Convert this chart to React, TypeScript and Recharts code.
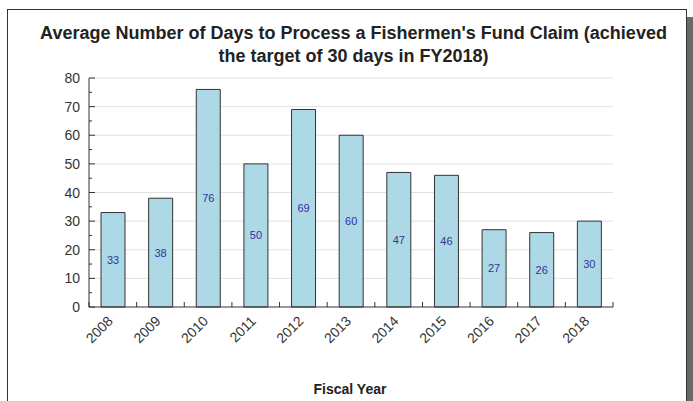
import React from "react";
import { BarChart, Bar, XAxis, YAxis, CartesianGrid, LabelList } from "recharts";

const years = ["2008", "2009", "2010", "2011", "2012", "2013", "2014", "2015", "2016", "2017", "2018"];
const days = [33, 38, 76, 50, 69, 60, 47, 46, 27, 26, 30];
const yTicks = [0, 5, 10, 15, 20, 25, 30, 35, 40, 45, 50, 55, 60, 65, 70, 75, 80];
const gridValues = [10, 20, 30, 40, 50, 60, 70, 80];
const titleLines = [
  "Average Number of Days to Process a Fishermen's Fund Claim (achieved",
  "the target of 30 days in FY2018)",
];
const xTitle = "Fiscal Year";

const data = years.map((y, i) => ({ year: y, days: days[i] }));

const FONT = "'Liberation Sans', Arial, sans-serif";

const YTick = (props: any) => {
  const { x, y, payload } = props;
  const v = payload.value;
  const axisX = x + 9;
  const major = v % 10 === 0;
  return (
    <g>
      <line x1={axisX} x2={axisX + (major ? 6 : 3)} y1={y} y2={y} stroke="#333" strokeWidth={1} />
      {major && (
        <text x={x} y={y} dy={5} textAnchor="end" fontSize={14} fill="#333" fontFamily={FONT}>
          {v}
        </text>
      )}
    </g>
  );
};

const XTick = (props: any) => {
  const { x, y, payload, width, visibleTicksCount, index } = props;
  const band = width / visibleTicksCount;
  const axisY = y;
  const left = x - band / 2;
  const right = x + band / 2;
  return (
    <g>
      <line x1={left} x2={left} y1={axisY} y2={axisY - 5} stroke="#333" strokeWidth={1} />
      {index === visibleTicksCount - 1 && (
        <line x1={right} x2={right} y1={axisY} y2={axisY - 5} stroke="#333" strokeWidth={1} />
      )}
      <text
        x={x + 1}
        y={axisY + 15}
        textAnchor="end"
        fontSize={14}
        fill="#333"
        fontFamily={FONT}
        transform={`rotate(-45, ${x + 1}, ${axisY + 15})`}
      >
        {payload.value}
      </text>
    </g>
  );
};

export default function App() {
  return (
    <div style={{ position: "absolute", left: 0, top: 0, width: 693, height: 401, background: "#fff", overflow: "hidden" }}>
      <div
        style={{
          position: "absolute",
          left: 7,
          top: 9,
          width: 678,
          height: 420,
          borderLeft: "1px solid #333",
          borderTop: "1px solid #333",
          borderRight: "1px solid #333",
        }}
      />
      <div style={{ position: "absolute", left: 687, top: 17, width: 6, height: 400, background: "#6a6a6a" }} />
      <div
        style={{
          position: "absolute",
          left: 0,
          top: 22,
          width: 707,
          textAlign: "center",
          fontFamily: FONT,
          fontWeight: "bold",
          fontSize: 18,
          lineHeight: "23px",
          color: "#222",
        }}
      >
        {titleLines.map((t) => (
          <div key={t}>{t}</div>
        ))}
      </div>
      <div
        style={{
          position: "absolute",
          left: 0,
          top: 381,
          width: 700,
          textAlign: "center",
          fontFamily: FONT,
          fontWeight: "bold",
          fontSize: 14,
          color: "#222",
        }}
      >
        {xTitle}
      </div>
      <div style={{ position: "absolute", left: 0, top: 0 }}>
        <BarChart
          width={693}
          height={401}
          data={data}
          margin={{ top: 78, right: 80, left: 49, bottom: 34 }}
          barCategoryGap={0}
        >
          <CartesianGrid horizontal vertical={false} stroke="#e2e2e2" horizontalValues={gridValues} />
          <XAxis
            dataKey="year"
            height={60}
            interval={0}
            tickSize={0}
            tickMargin={0}
            tickLine={false}
            axisLine={{ stroke: "#333" }}
            tick={<XTick />}
          />
          <YAxis
            width={40}
            domain={[0, 80]}
            ticks={yTicks}
            interval={0}
            tickSize={0}
            tickMargin={9}
            tickLine={false}
            axisLine={{ stroke: "#333" }}
            tick={<YTick />}
          />
          <Bar dataKey="days" fill="#add8e6" stroke="#333" strokeWidth={1} barSize={24} isAnimationActive={false}>
            <LabelList dataKey="days" position="center" fill="#333399" fontSize={11} fontFamily={FONT} />
          </Bar>
        </BarChart>
      </div>
    </div>
  );
}
